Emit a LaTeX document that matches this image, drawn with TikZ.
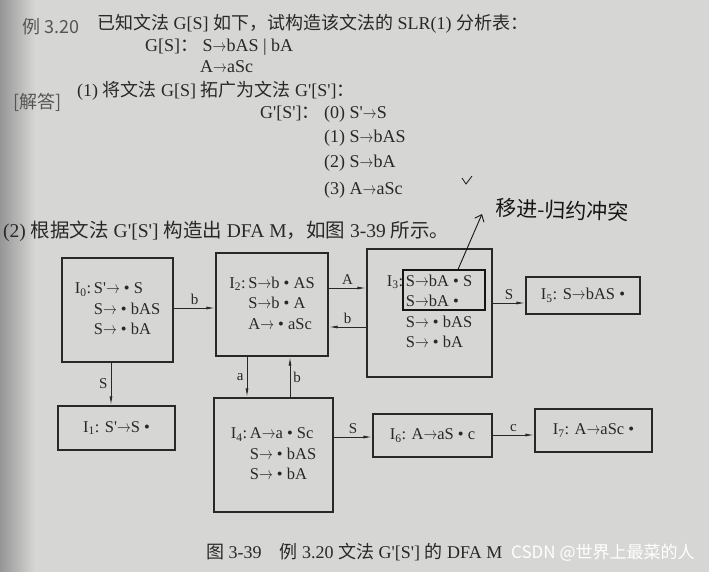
\documentclass[tikz,border=0pt]{standalone}
\usepackage{fontspec}
\usepackage{graphicx}
\setmainfont{Liberation Serif}
\newfontfamily\cjk{Noto Sans CJK SC}
\usetikzlibrary{arrows.meta}

\definecolor{paper}{RGB}{214,214,212}
\definecolor{edge}{RGB}{150,150,150}
\definecolor{ink}{RGB}{40,40,40}
\definecolor{hd}{RGB}{85,85,85}
\definecolor{pen}{RGB}{22,22,22}

\newcommand{\zhtxt}[1]{{\cjk #1}}
\newcommand{\ra}{\scalebox{0.8}[1]{$\rightarrow$}}
\newcommand{\pr}{\textquotesingle}
\newcommand{\itemdot}{\textbullet}
\newcommand{\itemset}[1]{\begin{tabular}{@{}r@{\,}l@{}}#1\end{tabular}}

\tikzset{
  txt/.style={anchor=west,inner sep=0pt,text=ink,font=\fontsize{18}{22}\selectfont},
  state/.style={draw=ink,line width=1.4pt,inner sep=2pt,text=ink,font=\fontsize{16.5}{20.5}\selectfont},
  trans/.style={draw=ink,line width=0.9pt,-{Latex[length=9pt,width=3pt]}},
  lbl/.style={text=ink,font=\fontsize{15}{18}\selectfont,inner sep=3pt}
}

\begin{document}
\begin{tikzpicture}[x=1pt,y=-1pt]
\useasboundingbox (0,0) rectangle (709,572);
\fill[paper] (0,0) rectangle (709,572);
\shade[left color=edge,right color=paper] (0,0) rectangle (35,572);

% the exercise
\node[txt,text=hd] (ex) at (22,27) {\zhtxt{例 3.20}};
\node[txt] (q) at (97,24) {\zhtxt{已知文法} G[S] \zhtxt{如下，试构造该文法的} SLR(1) \zhtxt{分析表：}};
\node[txt] (g1) at (145,47) {G[S]\zhtxt{：} S\ra bAS | bA};
\node[txt] (g2) at (200,67) {A\ra aSc};
\node[txt,text=hd] (ans) at (13,102) {\zhtxt{[解答]}};
\node[txt] (s1) at (77,91) {(1) \zhtxt{将文法} G[S] \zhtxt{拓广为文法} G\pr[S\pr]\zhtxt{：}};
\node[txt] (p0) at (260,114) {G\pr[S\pr]\zhtxt{：} (0) S\pr\ra S};
\node[txt] (p1) at (324,138) {(1) S\ra bAS};
\node[txt] (p2) at (324,163) {(2) S\ra bA};
\node[txt] (p3) at (324,190) {(3) A\ra aSc};
\node[txt,font=\fontsize{19.5}{22}\selectfont] (s2) at (3,231) {(2) \zhtxt{根据文法} G\pr[S\pr] \zhtxt{构造出} DFA M\zhtxt{，如图} 3-39 \zhtxt{所示。}};

% item sets
\node[state,minimum width=111pt,minimum height=104pt] (I0) at (117.5,310)
  {\itemset{I\textsubscript{0}: & S\pr\ra\ \itemdot\ S\\ & S\ra\ \itemdot\ bAS\\ & S\ra\ \itemdot\ bA}};
\node[state,minimum width=112pt,minimum height=103pt] (I2) at (272,304.5)
  {\itemset{I\textsubscript{2}: & S\ra b \itemdot\ AS\\ & S\ra b \itemdot\ A\\ & A\ra\ \itemdot\ aSc}};
\node[state,minimum width=125pt,minimum height=128pt] (I3) at (429.5,313)
  {\itemset{I\textsubscript{3}: & S\ra bA \itemdot\ S\\ & S\ra bA \itemdot\\ & S\ra\ \itemdot\ bAS\\ & S\ra\ \itemdot\ bA}};
\node[state,minimum width=114pt,minimum height=37pt] (I5) at (583,295.5)
  {I\textsubscript{5}: S\ra bAS \itemdot};
\node[state,minimum width=117pt,minimum height=44pt] (I1) at (116.5,428)
  {I\textsubscript{1}: S\pr\ra S \itemdot};
\node[state,minimum width=119pt,minimum height=114pt] (I4) at (273.5,455)
  {\itemset{I\textsubscript{4}: & A\ra a \itemdot\ Sc\\ & S\ra\ \itemdot\ bAS\\ & S\ra\ \itemdot\ bA}};
\node[state,minimum width=119pt,minimum height=43pt] (I6) at (432.5,435.5)
  {I\textsubscript{6}: A\ra aS \itemdot\ c};
\node[state,minimum width=117pt,minimum height=43pt] (I7) at (593.5,430.5)
  {I\textsubscript{7}: A\ra aSc \itemdot};

% transitions
\draw[trans] (I0.east |- 0,308) -- (I2.west |- 0,308) node[lbl,midway,above] {b};
\draw[trans] (I2.east |- 0,288) -- (I3.west |- 0,288) node[lbl,midway,above] {A};
\draw[trans] (I3.west |- 0,327) -- (I2.east |- 0,327) node[lbl,midway,above] {b};
\draw[trans] (I3.east |- 0,303) -- (I5.west |- 0,303) node[lbl,midway,above] {S};
\draw[trans] (I0.south -| 111,0) -- (I1.north -| 111,0) node[lbl,midway,left] {S};
\draw[trans] (I2.south -| 247,0) -- (I4.north -| 247,0) node[lbl,midway,left] {a};
\draw[trans] (I4.north -| 290,0) -- (I2.south -| 290,0) node[lbl,midway,right] {b};
\draw[trans] (I4.east |- 0,437) -- (I6.west |- 0,437) node[lbl,midway,above] {S};
\draw[trans] (I6.east |- 0,435) -- (I7.west |- 0,435) node[lbl,midway,above] {c};

% pen marks
\node[draw=pen,line width=1.1pt,minimum width=82pt,minimum height=40pt,inner sep=0pt] (clash) at (444,290) {};
\coordinate (tip) at (482,214);
\draw[pen,line width=0.9pt,-{Straight Barb[length=6pt,width=10pt]}] ([xshift=14pt]clash.north) -- (tip);
\node[text=pen,font=\cjk\fontsize{21}{24}\selectfont,rotate=-2,inner sep=0pt] (note) at (562,210) {移进-归约冲突};
\draw[pen,line width=0.8pt] (462,178) -- (466,184) -- (472,176);

% caption
\node[txt,font=\fontsize{18}{20}\selectfont] (cap) at (206,552) {\zhtxt{图} 3-39\quad \zhtxt{例} 3.20 \zhtxt{文法} G\pr[S\pr] \zhtxt{的} DFA M};
\node[anchor=west,inner sep=0pt,text=white,font=\cjk\fontsize{17}{20}\selectfont] (wm) at (511,553) {CSDN @世界上最菜的人};
\end{tikzpicture}
\end{document}
